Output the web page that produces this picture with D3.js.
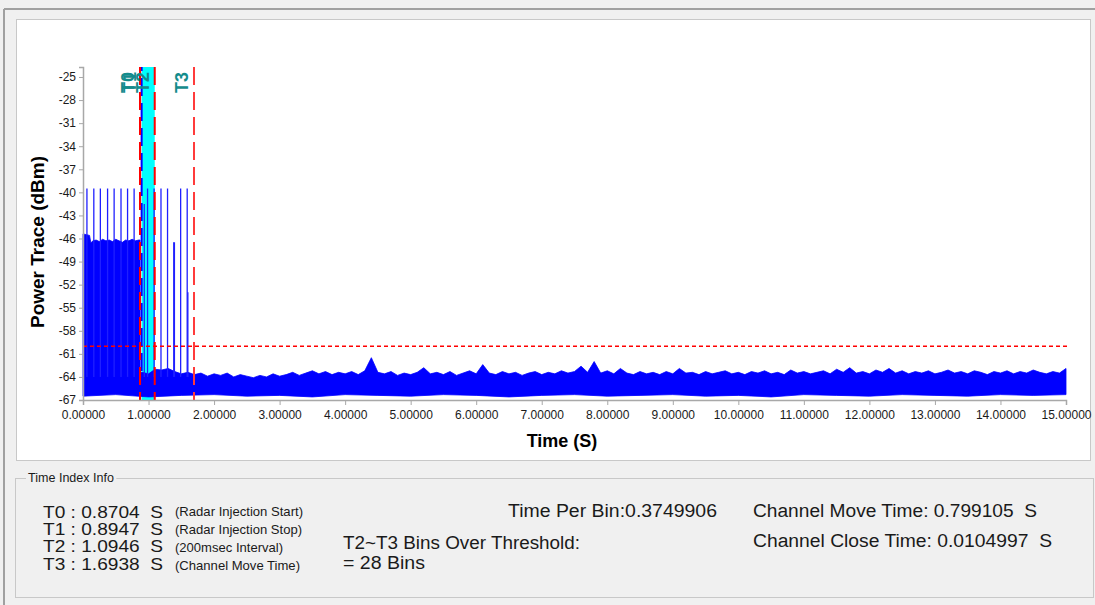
<!DOCTYPE html>
<html><head><meta charset="utf-8">
<script src="https://cdn.jsdelivr.net/npm/d3@7"></script>
<style>
body{margin:0;background:#f0f0f0;}
svg{display:block;font-family:"Liberation Sans",Arial,sans-serif;}
</style>
</head><body><svg id="c" width="1095" height="605"></svg>
<script>
// ---------------- data ----------------
const xTickValues = [0,1,2,3,4,5,6,7,8,9,10,11,12,13,14,15];
const yTickValues = [-25,-28,-31,-34,-37,-40,-43,-46,-49,-52,-55,-58,-61,-64,-67];

// radar burst block (before T0): upper envelope
const burstTimes = [0,0.05,0.1,0.12,0.15,0.2,0.25,0.3,0.35,0.4,0.45,0.5,0.55,0.6,0.65,0.7,0.75,0.8,0.85,0.8704];
const burstUpper = [-45.4,-45.5,-45.6,-46.6,-46.3,-46.2,-46.4,-46.1,-46.3,-46.2,-46.4,-46.1,-46.3,-46.5,-46.2,-46.3,-46.1,-46.3,-46.2,-46.2];

// noise floor upper envelope, one value per 0.1 s bin from 0.9 s to 15.0 s
const floorStart = 0.9, floorStep = 0.1;
const floorUpper = [
 -63.4,-63.6,-63.0,-63.1,-62.9,-63.3,-63.6,-63.4,-63.7,-63.5,
 -63.9,-63.6,-63.8,-63.5,-64.0,-63.7,-63.9,-64.1,-63.8,-64.0,
 -63.6,-63.9,-63.7,-63.4,-63.8,-63.5,-63.2,-63.6,-63.3,-63.7,
 -63.4,-63.6,-63.3,-63.7,-63.2,-61.5,-63.4,-63.6,-63.3,-63.8,
 -63.5,-63.7,-63.4,-62.8,-63.6,-63.4,-63.7,-63.3,-63.8,-63.5,
 -63.2,-63.6,-62.4,-63.5,-63.7,-63.3,-63.6,-63.4,-63.8,-63.5,
 -63.3,-63.7,-63.4,-63.6,-63.2,-63.5,-63.3,-62.6,-63.4,-62.0,
 -63.5,-63.2,-63.6,-62.9,-63.5,-63.7,-63.3,-63.6,-63.4,-63.7,
 -63.3,-63.6,-62.9,-63.5,-63.4,-63.7,-63.3,-63.6,-63.4,-63.2,
 -63.6,-63.4,-63.7,-63.3,-63.5,-63.2,-63.6,-63.4,-63.7,-63.1,
 -63.5,-63.3,-63.6,-63.4,-63.2,-63.6,-63.0,-63.4,-62.8,-63.5,
 -63.3,-63.6,-63.1,-63.4,-62.9,-63.5,-63.2,-63.6,-63.3,-63.5,
 -63.2,-63.6,-63.4,-63.1,-63.5,-63.3,-63.6,-63.2,-63.4,-63.7,
 -63.3,-63.5,-63.2,-63.6,-63.3,-63.5,-63.1,-63.4,-63.6,-63.3,
 -63.5,-62.9];

// lower envelope, one value per 0.5 s from 0 to 15 s
const lowerStep = 0.5;
const lowerEnv = [-66.5,-66.3,-66.6,-66.4,-66.3,-66.5,-66.4,-66.6,-66.3,-66.4,
 -66.5,-66.3,-66.4,-66.6,-66.4,-66.3,-66.5,-66.4,-66.3,-66.5,
 -66.4,-66.6,-66.3,-66.4,-66.5,-66.3,-66.4,-66.5,-66.3,-66.4,-66.3];

// radar pulses (spikes)
const spikeTimes = [0.06,0.165,0.265,0.375,0.475,0.58,0.68,0.78,0.935,0.985,1.085,1.19,1.29,1.385,1.395,1.49,1.59,1.60];
const spikeTops  = [-39.5,-39.5,-39.5,-39.5,-39.5,-39.5,-39.5,-39.5,-41.5,-39.5,-39.5,-39.5,-39.5,-46.5,-46.5,-39.5,-39.5,-53];

const threshold = -60;
const markerNames = ["T0","T1","T2","T3"];
const markerTimes = [0.8704,0.8947,1.0946,1.6938];
const markerColors = ["#ff0000","#0000ff","#ff0000","#ff3b3b"];

const infoValues = ["0.8704","0.8947","1.0946","1.6938"];
const infoNotes = ["(Radar Injection Start)","(Radar Injection Stop)","(200msec Interval)","(Channel Move Time)"];
const timePerBin = "0.3749906";
const binsOver = 28;
const channelMove = "0.799105";
const channelClose = "0.0104997";

// ---------------- drawing ----------------
const svg = d3.select("#c");
const NB = "\u00a0";

// window frame
svg.append("line").attr("x1",4).attr("y1",9).attr("x2",1095).attr("y2",9).attr("stroke","#a0a0a0").attr("stroke-width",2);
svg.append("line").attr("x1",4).attr("y1",9).attr("x2",4).attr("y2",605).attr("stroke","#a0a0a0").attr("stroke-width",2);
svg.append("rect").attr("x",16.5).attr("y",19.5).attr("width",1074).attr("height",441)
  .attr("fill","#ffffff").attr("stroke","#c8c8c8");

const x = d3.scaleLinear().domain([0,15]).range([83,1066]);
const y = d3.scaleLinear().domain([-67,-23.7]).range([400,67]);

// cyan band T1..T2
svg.append("rect").attr("x",x(markerTimes[1])).attr("y",y(-23.7))
  .attr("width",x(markerTimes[2])-x(markerTimes[1])).attr("height",y(-67)-y(-23.7))
  .attr("fill","#00ffff");

// trace polygon
const upperPts = burstTimes.map((t,i)=>[t,burstUpper[i]]);
upperPts.push([markerTimes[0], floorUpper[0]]);
floorUpper.forEach((v,i)=>upperPts.push([floorStart+i*floorStep, v]));
const lowerPts = lowerEnv.map((v,i)=>[i*lowerStep, v]).reverse();
const poly = upperPts.concat(lowerPts);
const line = d3.line().x(d=>x(d[0])).y(d=>y(d[1]));
svg.append("path").attr("d", line(poly)+"Z").attr("fill","#0000ff").attr("stroke","#0000ff").attr("stroke-width",0.8);

// spikes
svg.append("g").selectAll("line").data(spikeTimes).join("line")
  .attr("x1",d=>x(d)).attr("x2",d=>x(d))
  .attr("y1",y(-64)).attr("y2",(d,i)=>y(spikeTops[i]))
  .attr("stroke","#1f1fff").attr("stroke-width",1.3);

// threshold
svg.append("line").attr("x1",x(0)).attr("x2",x(15)+2).attr("y1",y(threshold)).attr("y2",y(threshold))
  .attr("stroke","#ff0000").attr("stroke-width",1.5).attr("stroke-dasharray","4,3");

// marker lines
svg.append("g").selectAll("line").data(markerTimes).join("line")
  .attr("x1",d=>x(d)).attr("x2",d=>x(d)).attr("y1",y(-23.7)).attr("y2",y(-67))
  .attr("stroke",(d,i)=>markerColors[i]).attr("stroke-width",2)
  .attr("stroke-dasharray","18,7")
  .attr("stroke-dashoffset",(d,i)=> i===1 ? 14 : 0);
svg.append("line").attr("x1",x(markerTimes[0])).attr("x2",x(markerTimes[0])).attr("y1",y(-23.7)).attr("y2",y(-67))
  .attr("stroke","#ff0000").attr("stroke-width",2).attr("stroke-dasharray","18,7");

svg.append("g").selectAll("text").data(markerNames).join("text")
  .attr("transform",(d,i)=>`translate(${x(markerTimes[i])-6},72) rotate(-90)`)
  .attr("text-anchor","end").attr("font-size",18).attr("font-weight","bold")
  .attr("fill","#148c8c").text(d=>d);

// axes
const yAxis = svg.append("g").attr("transform",`translate(${x(0)},0)`)
  .call(d3.axisLeft(y).tickValues(yTickValues).tickSize(4).tickPadding(3).tickFormat(d=>String(d)));
const xAxis = svg.append("g").attr("transform",`translate(0,${y(-67)})`)
  .call(d3.axisBottom(x).tickValues(xTickValues).tickSize(5).tickPadding(5).tickFormat(d3.format(".5f")));
[yAxis,xAxis].forEach(a=>{
  a.select(".domain").attr("stroke","#a8a8a8").attr("stroke-width",1.5);
  a.selectAll(".tick line").attr("stroke","#a8a8a8");
  a.selectAll(".tick text").attr("font-size",12).attr("fill","#1a1a1a").attr("font-family","Liberation Sans, Arial, sans-serif");
});

svg.append("text").attr("x",562).attr("y",447).attr("text-anchor","middle")
  .attr("font-size",18).attr("font-weight","bold").text("Time (S)");
svg.append("text").attr("transform","translate(44,242) rotate(-90)").attr("text-anchor","middle")
  .attr("font-size",19).attr("font-weight","bold").text("Power Trace (dBm)");

// group box
svg.append("rect").attr("x",15.5).attr("y",478.5).attr("width",1078).attr("height",119)
  .attr("fill","none").attr("stroke","#c8c8c8");
const titleBg = svg.append("rect");
const title = svg.append("text").attr("x",28).attr("y",482).attr("font-size",12).attr("fill","#1a1a1a")
  .attr("textLength",86).attr("lengthAdjust","spacingAndGlyphs").text("Time Index Info");
const tb = title.node().getBBox();
titleBg.attr("x",tb.x-2).attr("y",tb.y).attr("width",tb.width+4).attr("height",tb.height).attr("fill","#f0f0f0");

const info = svg.append("g").attr("fill","#1a1a1a");
function fit(sel, w){ sel.attr("textLength",w).attr("lengthAdjust","spacingAndGlyphs"); return sel; }
markerNames.forEach((n,i)=>{
  fit(info.append("text").attr("x",43).attr("y",518+i*17.2).attr("font-size",17)
    .text(`${n} : ${infoValues[i]}${NB}${NB}S`), 120);
  const note = info.append("text").attr("x",175).attr("y",516+i*18).attr("font-size",13)
    .attr("font-family","Liberation Sans Narrow, Arial Narrow, Liberation Sans, Arial")
    .text(infoNotes[i]);
  fit(note, [128,127,108,125][i]);
});
fit(info.append("text").attr("x",508).attr("y",517).attr("font-size",18).text(`Time Per Bin:${timePerBin}`),209);
fit(info.append("text").attr("x",343).attr("y",549).attr("font-size",18).text("T2~T3 Bins Over Threshold:"),237);
fit(info.append("text").attr("x",343).attr("y",569).attr("font-size",18).text(`= ${binsOver} Bins`),82);
fit(info.append("text").attr("x",753).attr("y",517).attr("font-size",18).text(`Channel Move Time: ${channelMove}${NB}${NB}S`),284);
fit(info.append("text").attr("x",753).attr("y",547).attr("font-size",18).text(`Channel Close Time: ${channelClose}${NB}${NB}S`),299);
</script>
</body></html>
